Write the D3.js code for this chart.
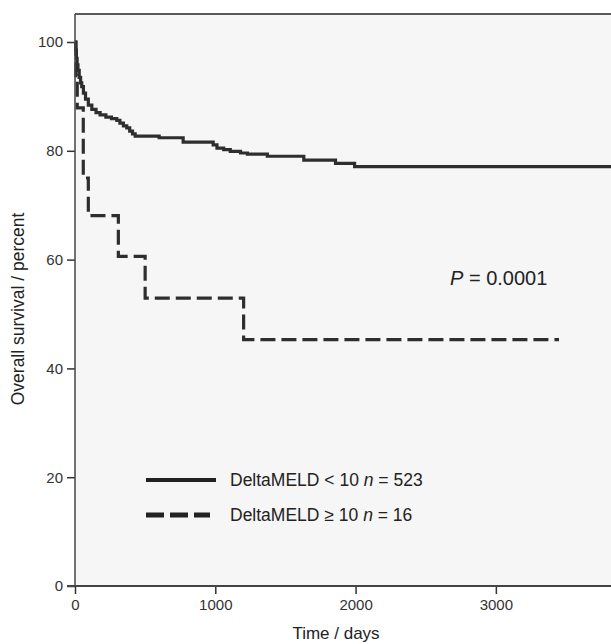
<!DOCTYPE html>
<html>
<head>
<meta charset="utf-8">
<script src="https://cdn.jsdelivr.net/npm/d3@7"></script>
<style>
  body { margin: 0; background: #fff; }
  svg { display: block; font-family: Arial, "Liberation Sans", sans-serif; }
</style>
</head>
<body>
<div class="chart"></div>
<script>
// Kaplan-Meier curves (days, percent surviving)
const lowDays = [0, 5, 10, 15, 21, 30, 40, 48, 60, 75, 95, 120, 150, 179, 220, 260, 298, 320, 345, 369, 390, 410, 429, 600, 771, 985, 1012, 1060, 1107, 1180, 1229, 1371, 1631, 1857, 1993, 3835]
const lowSurv = [100, 98.5, 97, 95.8, 94.8, 93.5, 92.5, 91.8, 90.6, 89.5, 88.4, 87.6, 87.0, 86.6, 86.2, 85.9, 85.6, 85.1, 84.6, 84.2, 83.6, 83.1, 82.7, 82.4, 81.6, 81.1, 80.5, 80.2, 79.9, 79.6, 79.4, 79.0, 78.3, 77.7, 77.1, 77.1]
const highDays = [0, 7, 16, 59, 95, 309, 500, 1202, 3450]
const highSurv = [100, 93.8, 87.9, 75.0, 68.1, 60.6, 52.9, 45.3, 45.3]

const xTicks = [0, 1000, 2000, 3000]
const yTicks = [0, 20, 40, 60, 80, 100]
const legendLabels = [
  { text: 'DeltaMELD < 10 ', n: '523', dash: null },
  { text: 'DeltaMELD \u2265 10 ', n: '16', dash: '15,6' }
]
const pValue = '0.0001'

const W = 611
const H = 644
const margin = { top: 14, right: -2, bottom: 58, left: 75 }
const width = W - margin.left - margin.right
const height = H - margin.top - margin.bottom

const svg = d3.select('.chart').append('svg').attr('width', W).attr('height', H)

const x = d3.scaleLinear().domain([0, 3835]).range([margin.left, margin.left + width])
const y = d3.scaleLinear().domain([0, 100]).range([margin.top + height, 42])

// plot panel
svg.append('rect')
  .attr('x', margin.left).attr('y', margin.top)
  .attr('width', width).attr('height', height)
  .style('fill', '#f6f6f6')
svg.append('line')
  .attr('x1', margin.left).attr('x2', margin.left + width)
  .attr('y1', margin.top).attr('y2', margin.top)
  .style('stroke', '#5a5a5a').style('stroke-width', 2)

// curves
const line = d3.line().x(d => x(d[0])).y(d => y(d[1])).curve(d3.curveStepAfter)
svg.append('path')
  .datum(d3.zip(lowDays, lowSurv))
  .attr('d', line)
  .style('fill', 'none').style('stroke', '#2e2e2e').style('stroke-width', 3.2)
svg.append('path')
  .datum(d3.zip(highDays, highSurv))
  .attr('d', line)
  .style('fill', 'none').style('stroke', '#2e2e2e').style('stroke-width', 3.2)
  .style('stroke-dasharray', '15,6')

// axes
const yAxis = d3.axisLeft(y).tickValues(yTicks).tickSize(8).tickPadding(4).tickFormat(d3.format('d'))
const gy = svg.append('g').attr('transform', `translate(${margin.left},0)`).call(yAxis)
const xAxis = d3.axisBottom(x).tickValues(xTicks).tickSize(8).tickPadding(5).tickFormat(d3.format('d'))
const gx = svg.append('g').attr('transform', `translate(0,${margin.top + height})`).call(xAxis)
;[gx, gy].forEach(g => {
  g.select('.domain').remove()
  g.selectAll('.tick line').style('stroke', '#333').style('stroke-width', 1.5)
  g.selectAll('.tick text').style('font-size', '15px').style('fill', '#333').style('font-family', 'Arial, "Liberation Sans", sans-serif')
})
svg.append('line')
  .attr('x1', margin.left).attr('x2', margin.left)
  .attr('y1', margin.top).attr('y2', margin.top + height)
  .style('stroke', '#444').style('stroke-width', 1.5)
svg.append('line')
  .attr('x1', margin.left - 8).attr('x2', margin.left + width)
  .attr('y1', margin.top + height).attr('y2', margin.top + height)
  .style('stroke', '#444').style('stroke-width', 2)

// axis titles
svg.append('text')
  .attr('x', 336).attr('y', 639)
  .attr('text-anchor', 'middle')
  .style('font-size', '17px').style('fill', '#222')
  .text('Time / days')
svg.append('text')
  .attr('transform', 'translate(24,309) rotate(-90)')
  .attr('text-anchor', 'middle')
  .style('font-size', '17.5px').style('fill', '#222')
  .text('Overall survival / percent')

// p value
const pt = svg.append('text').attr('x', 450).attr('y', 285).style('font-size', '20px').style('fill', '#222')
pt.append('tspan').style('font-style', 'italic').text('P')
pt.append('tspan').text(' = ' + pValue)

// legend
const leg = svg.append('g')
legendLabels.forEach((d, i) => {
  const ly = 480 + i * 35
  leg.append('line')
    .attr('x1', 146).attr('x2', d.dash ? 210 : 216)
    .attr('y1', ly).attr('y2', ly)
    .style('stroke', '#222').style('stroke-width', d.dash ? 5 : 4)
    .style('stroke-dasharray', d.dash ? '18,6' : null)
  const t = leg.append('text').attr('x', 230).attr('y', ly + 6).style('font-size', '17.5px').style('fill', '#222')
  t.append('tspan').text(d.text)
  t.append('tspan').style('font-style', 'italic').text('n')
  t.append('tspan').text(' = ' + d.n)
})
</script>
</body>
</html>
